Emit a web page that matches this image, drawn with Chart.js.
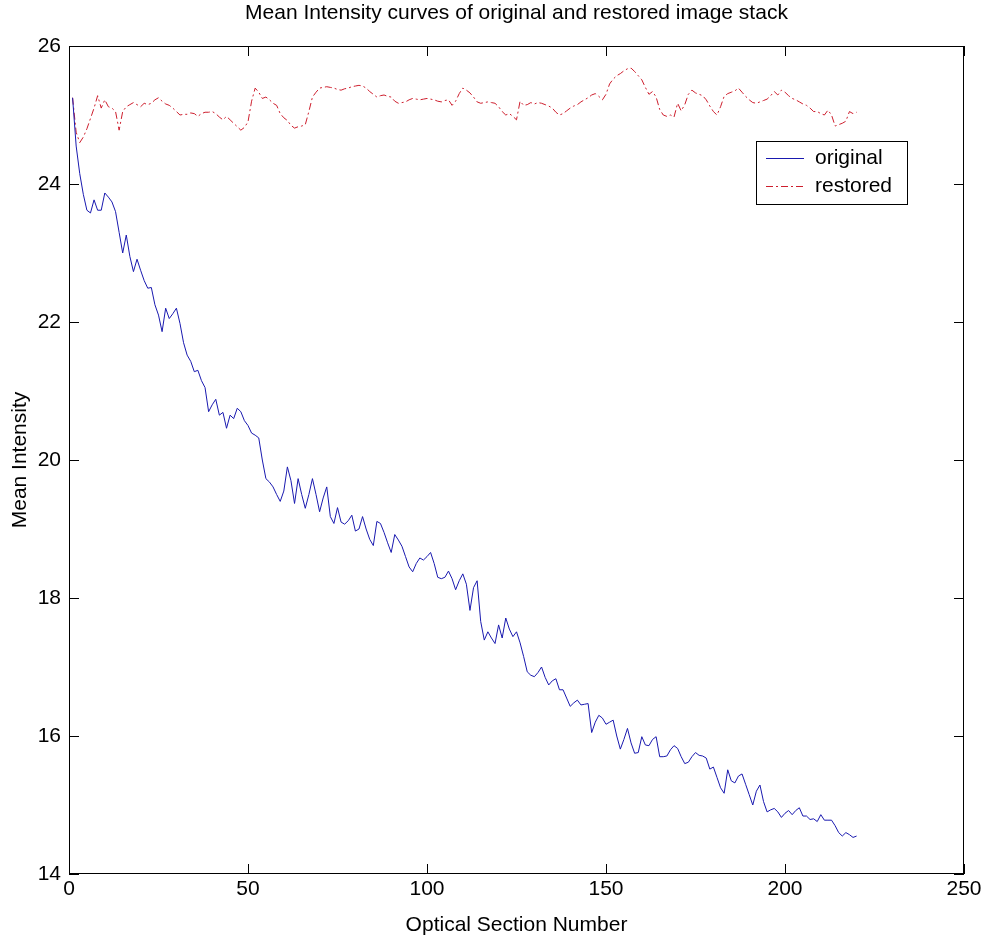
<!DOCTYPE html>
<html>
<head>
<meta charset="utf-8">
<title>Mean Intensity curves</title>
<script src="https://cdn.jsdelivr.net/npm/chart.js@4.4.0/dist/chart.umd.min.js"></script>
<style>
  html, body { margin: 0; padding: 0; background: #fff; }
  #wrap { width: 985px; height: 943px; }
</style>
</head>
<body>
<div id="wrap"><canvas id="mainChart" width="985" height="943"></canvas></div>
<script>
// --- Data (section 1..220) ---
const originalMean = [
  25.25, 24.55, 24.15, 23.85, 23.62, 23.58, 23.77, 23.62, 23.62, 23.87,
  23.81, 23.74, 23.60, 23.30, 23.00, 23.26, 22.95, 22.73, 22.91, 22.75,
  22.60, 22.49, 22.50, 22.25, 22.10, 21.86, 22.20, 22.05, 22.12, 22.20,
  21.98, 21.70, 21.52, 21.43, 21.28, 21.30, 21.15, 21.05, 20.70, 20.80,
  20.88, 20.65, 20.69, 20.46, 20.65, 20.60, 20.75, 20.70, 20.57, 20.50,
  20.39, 20.36, 20.32, 20.00, 19.73, 19.68, 19.61, 19.50, 19.40, 19.55,
  19.90, 19.70, 19.37, 19.73, 19.50, 19.30, 19.50, 19.73, 19.50, 19.25,
  19.45, 19.61, 19.18, 19.08, 19.31, 19.10, 19.07, 19.12, 19.20, 18.97,
  19.00, 19.18, 19.00, 18.85, 18.76, 19.11, 19.08, 18.95, 18.80, 18.66,
  18.92, 18.84, 18.75, 18.60, 18.45, 18.38, 18.50, 18.58, 18.55, 18.60,
  18.66, 18.50, 18.30, 18.28, 18.30, 18.39, 18.28, 18.12, 18.25, 18.35,
  18.20, 17.82, 18.15, 18.25, 17.66, 17.39, 17.51, 17.42, 17.34, 17.61,
  17.42, 17.71, 17.55, 17.44, 17.51, 17.35, 17.15, 16.93, 16.88, 16.86,
  16.92, 17.00, 16.85, 16.74, 16.80, 16.83, 16.67, 16.67, 16.55, 16.43,
  16.48, 16.52, 16.45, 16.46, 16.47, 16.05, 16.20, 16.30, 16.26, 16.17,
  16.20, 16.23, 16.00, 15.81, 15.95, 16.11, 15.90, 15.75, 15.76, 15.99,
  15.87, 15.86, 15.95, 15.99, 15.70, 15.70, 15.71, 15.80, 15.86, 15.82,
  15.70, 15.60, 15.62, 15.70, 15.76, 15.72, 15.71, 15.68, 15.52, 15.55,
  15.40, 15.25, 15.17, 15.51, 15.35, 15.32, 15.42, 15.45, 15.30, 15.15,
  15.00, 15.20, 15.29, 15.05, 14.90, 14.93, 14.95, 14.90, 14.82, 14.88,
  14.92, 14.86, 14.92, 14.96, 14.84, 14.84, 14.79, 14.80, 14.76, 14.86,
  14.78, 14.78, 14.78, 14.70, 14.60, 14.55, 14.60, 14.57, 14.53, 14.55
];

const restoredMean = [
  25.25, 24.75, 24.60, 24.68, 24.80, 24.95, 25.10, 25.28, 25.10, 25.22,
  25.12, 25.10, 25.05, 24.78, 25.05, 25.12, 25.15, 25.18, 25.15, 25.12,
  25.17, 25.15, 25.17, 25.22, 25.25, 25.20, 25.16, 25.14, 25.10, 25.05,
  25.00, 25.01, 25.01, 25.03, 25.02, 24.98, 25.02, 25.04, 25.04, 25.05,
  25.02, 24.97, 24.93, 24.98, 24.93, 24.88, 24.83, 24.78, 24.82, 24.90,
  25.20, 25.39, 25.33, 25.24, 25.26, 25.22, 25.17, 25.14, 25.02, 24.96,
  24.92, 24.85, 24.81, 24.83, 24.84, 24.86, 25.05, 25.26, 25.33, 25.39,
  25.40, 25.41, 25.40, 25.39, 25.37, 25.36, 25.38, 25.39, 25.41, 25.42,
  25.43, 25.42, 25.39, 25.34, 25.30, 25.26, 25.28, 25.29, 25.27, 25.26,
  25.20, 25.17, 25.18, 25.19, 25.22, 25.24, 25.23, 25.22, 25.23, 25.24,
  25.23, 25.22, 25.20, 25.19, 25.21, 25.22, 25.14, 25.20, 25.31, 25.39,
  25.36, 25.32, 25.26, 25.19, 25.17, 25.18, 25.19, 25.18, 25.17, 25.12,
  25.05, 25.00, 25.02, 24.98, 24.93, 25.20, 25.14, 25.15, 25.18, 25.16,
  25.18, 25.17, 25.15, 25.13, 25.10, 25.04, 25.00, 25.02, 25.06, 25.10,
  25.13, 25.15, 25.19, 25.22, 25.25, 25.29, 25.31, 25.27, 25.22, 25.30,
  25.45, 25.52, 25.57, 25.60, 25.64, 25.67, 25.68, 25.63, 25.57, 25.51,
  25.40, 25.30, 25.34, 25.26, 25.08, 25.00, 24.98, 25.00, 24.97, 25.17,
  25.06, 25.15, 25.30, 25.36, 25.32, 25.30, 25.28, 25.22, 25.13, 25.05,
  25.00, 25.12, 25.27, 25.31, 25.33, 25.35, 25.39, 25.33, 25.27, 25.22,
  25.18, 25.17, 25.19, 25.21, 25.23, 25.28, 25.34, 25.29, 25.36, 25.33,
  25.28, 25.24, 25.22, 25.19, 25.16, 25.14, 25.10, 25.05, 25.05, 25.02,
  25.00, 25.07, 25.00, 24.84, 24.86, 24.88, 24.91, 25.05, 25.02, 25.04
];

const xTicks = [0, 50, 100, 150, 200, 250];
const yTicks = [14, 16, 18, 20, 22, 24, 26];
const seriesNames = ['original', 'restored'];

// --- Style ---
const FONT = "'Liberation Sans', Arial, Helvetica, sans-serif";
const FONT_SIZE = 21;
const BLUE = 'rgb(25,25,175)';
const RED = 'rgb(205,30,45)';
const RED_DASH = [7, 3, 2, 3];

function toPoints(values) {
  return values.map((v, i) => ({ x: i + 1, y: v }));
}

// MATLAB-like box with inward ticks on all four sides
const boxAxes = {
  id: 'boxAxes',
  afterDatasetsDraw(chart) {
    const { ctx, chartArea: a, scales: { x, y } } = chart;
    const len = 10;
    ctx.save();
    ctx.strokeStyle = '#000';
    ctx.lineWidth = 1;
    ctx.strokeRect(a.left + 0.5, a.top + 0.5, a.right - a.left - 1, a.bottom - a.top - 1);
    ctx.beginPath();
    xTicks.forEach(v => {
      const px = Math.round(x.getPixelForValue(v)) + 0.5;
      ctx.moveTo(px, a.bottom); ctx.lineTo(px, a.bottom - len);
      ctx.moveTo(px, a.top); ctx.lineTo(px, a.top + len);
    });
    yTicks.forEach(v => {
      const py = Math.round(y.getPixelForValue(v)) + 0.5;
      ctx.moveTo(a.left, py); ctx.lineTo(a.left + len, py);
      ctx.moveTo(a.right, py); ctx.lineTo(a.right - len, py);
    });
    ctx.stroke();
    ctx.restore();
  }
};

// legend box inside the plot, upper right
const boxLegend = {
  id: 'boxLegend',
  afterDraw(chart) {
    const { ctx } = chart;
    const bx = 756, by = 141, bw = 151, bh = 63;
    ctx.save();
    ctx.fillStyle = '#fff';
    ctx.fillRect(bx, by, bw, bh);
    ctx.strokeStyle = '#000';
    ctx.lineWidth = 1;
    ctx.strokeRect(bx + 0.5, by + 0.5, bw, bh);
    ctx.font = FONT_SIZE + 'px ' + FONT;
    ctx.textBaseline = 'middle';
    ctx.fillStyle = '#000';
    chart.data.datasets.forEach((ds, i) => {
      const ly = by + 17 + i * 28 + 0.5;
      ctx.strokeStyle = ds.borderColor;
      ctx.setLineDash(ds.borderDash || []);
      ctx.beginPath();
      ctx.moveTo(bx + 10, ly);
      ctx.lineTo(bx + 48, ly);
      ctx.stroke();
      ctx.setLineDash([]);
      ctx.fillText(ds.label, bx + 59, ly);
    });
    ctx.restore();
  }
};

const ctx = document.getElementById('mainChart').getContext('2d');
new Chart(ctx, {
  type: 'line',
  data: {
    datasets: [
      {
        label: seriesNames[0],
        data: toPoints(originalMean),
        borderColor: BLUE,
        borderWidth: 1,
        pointRadius: 0,
        tension: 0,
        fill: false
      },
      {
        label: seriesNames[1],
        data: toPoints(restoredMean),
        borderColor: RED,
        borderWidth: 1,
        borderDash: RED_DASH,
        pointRadius: 0,
        tension: 0,
        fill: false
      }
    ]
  },
  options: {
    responsive: false,
    animation: false,
    devicePixelRatio: 1,
    layout: { padding: { top: 0, left: 0, right: 21, bottom: 0 } },
    plugins: {
      legend: { display: false },
      tooltip: { enabled: false },
      title: {
        display: true,
        fullSize: false,  // centre over the plot box, as in the reference
        text: 'Mean Intensity curves of original and restored image stack',
        color: '#000',
        font: { family: FONT, size: FONT_SIZE, weight: 'normal', lineHeight: 1 },
        padding: { top: 3, bottom: 22 }
      }
    },
    scales: {
      x: {
        type: 'linear',
        min: 0, max: 250,
        afterFit(scale) { scale.height = 69; },
        afterBuildTicks(scale) { scale.ticks = xTicks.map(v => ({ value: v })); },
        grid: { display: false, drawTicks: false },
        border: { display: false },
        ticks: { color: '#000', padding: 3, maxRotation: 0, font: { family: FONT, size: FONT_SIZE } },
        title: {
          display: true,
          text: 'Optical Section Number',
          color: '#000',
          font: { family: FONT, size: FONT_SIZE, lineHeight: 1 },
          padding: { top: 0, bottom: 7 }
        }
      },
      y: {
        type: 'linear',
        min: 14, max: 26,
        afterFit(scale) { scale.width = 69; },
        afterBuildTicks(scale) { scale.ticks = yTicks.map(v => ({ value: v })); },
        grid: { display: false, drawTicks: false },
        border: { display: false },
        ticks: { color: '#000', padding: 8, font: { family: FONT, size: FONT_SIZE } },
        title: {
          display: true,
          text: 'Mean Intensity',
          color: '#000',
          font: { family: FONT, size: FONT_SIZE, lineHeight: 1 },
          padding: { top: 10, bottom: 0 }
        }
      }
    }
  },
  plugins: [boxAxes, boxLegend]
});
</script>
</body>
</html>
